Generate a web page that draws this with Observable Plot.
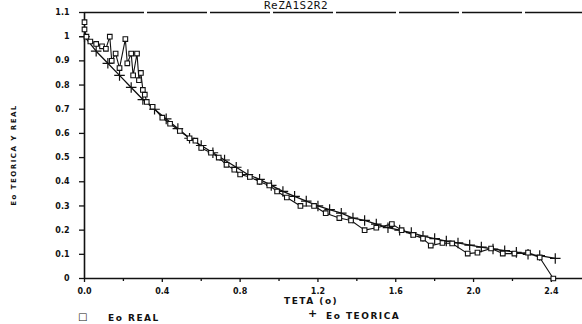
<!DOCTYPE html>
<html><head><meta charset="utf-8">
<script src="https://cdn.jsdelivr.net/npm/d3@7"></script>
<script src="https://cdn.jsdelivr.net/npm/@observablehq/plot@0.6"></script>
<style>
body{margin:0;background:#fff;}
#wrap{position:relative;width:582px;height:324px;overflow:hidden;background:#fff;color:#111;font-family:"DejaVu Sans",sans-serif;font-weight:bold;}
#wrap svg{position:absolute;left:0;top:0;}
.t{position:absolute;white-space:nowrap;font-size:9px;line-height:11px;letter-spacing:1.5px;}
#title{font-family:"DejaVu Sans Mono",monospace;font-weight:normal;font-size:11px;line-height:11px;letter-spacing:0.5px;}
#ylab{transform:translate(-50%,-50%) rotate(-90deg);font-size:7px;letter-spacing:1.5px;}
</style></head><body><div id="wrap"></div>
<script>
const title = "ReZA1S2R2";
const xLabel = "TETA (o)";
const yLabel = "Eo TEORICA Y REAL";
const realLabel = "Eo REAL";
const teoLabel = "Eo TEORICA";

const tetaReal = [0.00, 0.00, 0.01, 0.03, 0.06, 0.09, 0.11, 0.13, 0.14, 0.16, 0.18, 0.21, 0.22, 0.24, 0.25, 0.27, 0.28, 0.29, 0.30, 0.31, 0.32, 0.35, 0.40, 0.44, 0.49, 0.54, 0.57, 0.60, 0.65, 0.69, 0.73, 0.77, 0.80, 0.85, 0.90, 0.95, 0.99, 1.04, 1.11, 1.18, 1.24, 1.31, 1.37, 1.44, 1.50, 1.58, 1.63, 1.69, 1.74, 1.78, 1.84, 1.89, 1.97, 2.02, 2.09, 2.15, 2.21, 2.28, 2.34, 2.41];
const eoReal = [1.06, 1.03, 1.00, 0.98, 0.97, 0.96, 0.95, 1.00, 0.90, 0.93, 0.87, 0.99, 0.89, 0.93, 0.84, 0.93, 0.82, 0.85, 0.78, 0.76, 0.73, 0.71, 0.665, 0.64, 0.61, 0.58, 0.57, 0.54, 0.52, 0.50, 0.47, 0.45, 0.43, 0.42, 0.40, 0.385, 0.36, 0.335, 0.30, 0.30, 0.27, 0.25, 0.24, 0.20, 0.21, 0.225, 0.20, 0.18, 0.165, 0.136, 0.147, 0.145, 0.103, 0.107, 0.124, 0.103, 0.103, 0.107, 0.087, 0.0];

const tetaTeo = [0, 0.06, 0.12, 0.18, 0.24, 0.30, 0.36, 0.42, 0.48, 0.54, 0.60, 0.66, 0.72, 0.78, 0.84, 0.90, 0.96, 1.02, 1.08, 1.14, 1.20, 1.26, 1.32, 1.38, 1.44, 1.50, 1.56, 1.62, 1.68, 1.74, 1.80, 1.86, 1.92, 1.98, 2.04, 2.10, 2.16, 2.22, 2.28, 2.34, 2.42];
const eoTeo = [1.00, 0.94, 0.89, 0.84, 0.79, 0.74, 0.70, 0.66, 0.62, 0.58, 0.55, 0.52, 0.49, 0.46, 0.43, 0.41, 0.385, 0.36, 0.34, 0.32, 0.30, 0.285, 0.27, 0.25, 0.24, 0.225, 0.21, 0.20, 0.19, 0.175, 0.165, 0.155, 0.147, 0.138, 0.13, 0.122, 0.115, 0.108, 0.10, 0.095, 0.083];

const xTicks = [0, 0.4, 0.8, 1.2, 1.6, 2.0, 2.4];
const xMinorTicks = [0.2, 0.6, 1.0, 1.4, 1.8, 2.2];
const yTicks = [0, 0.1, 0.2, 0.3, 0.4, 0.5, 0.6, 0.7, 0.8, 0.9, 1.0, 1.1];

const real = tetaReal.map((t, i) => ({teta: t, eo: eoReal[i]}));
const teo = tetaTeo.map((t, i) => ({teta: t, eo: eoTeo[i]}));

const chart = Plot.plot({
  width: 582,
  height: 296,
  marginLeft: 84,
  marginRight: 0,
  marginTop: 12,
  marginBottom: 18,
  style: {background: "transparent", fontFamily: "DejaVu Sans, sans-serif", fontSize: "8px", fontWeight: "bold", color: "#111", overflow: "visible"},
  x: {domain: [0, 2.56]},
  y: {domain: [0, 1.1]},
  marks: [
    Plot.axisY({ticks: yTicks, tickSize: 5, tickPadding: 10, tickFormat: d => (d === 0 || d === 1) ? String(d) : d3.format(".1f")(d), label: null, strokeWidth: 1.3}),
    Plot.axisX({ticks: xTicks, tickSize: 4, tickPadding: 6, tickFormat: d3.format(".1f"), label: null, strokeWidth: 1.3}),
    Plot.axisX({ticks: xMinorTicks, tickSize: 3, text: null, label: null, strokeWidth: 1.3}),
    Plot.ruleX([0], {stroke: "#111", strokeWidth: 1.6}),
    Plot.ruleY([0], {stroke: "#111", strokeWidth: 1.4}),
    Plot.ruleY([1.1], {stroke: "#111", strokeWidth: 1.3, strokeDasharray: "60,3"}),
    Plot.line(teo, {x: "teta", y: "eo", stroke: "#111", strokeWidth: 1.3}),
    Plot.dot(teo, {x: "teta", y: "eo", symbol: "plus", r: 3.5, stroke: "#111", strokeWidth: 1.2}),
    Plot.line(real, {x: "teta", y: "eo", stroke: "#111", strokeWidth: 1.1}),
    Plot.dot(real, {x: "teta", y: "eo", symbol: "square", r: 2.6, stroke: "#111", fill: "white", strokeWidth: 1.1})
  ]
});

const wrap = document.getElementById("wrap");
wrap.appendChild(chart);

function addText(id, txt, left, top) {
  const d = document.createElement("div");
  d.className = "t"; if (id) d.id = id;
  d.style.left = left + "px"; d.style.top = top + "px";
  d.textContent = txt;
  wrap.appendChild(d);
  return d;
}
addText("title", title, 264, 0);
addText("ylab", yLabel, 14, 155);
addText(null, xLabel, 284, 296);
addText(null, "\u25A1", 78, 311).style.fontSize = "10px";
addText(null, realLabel, 108, 313);
addText(null, "+", 308, 308).style.fontSize = "11px";
addText(null, teoLabel, 326, 311);
</script>
</body></html>
